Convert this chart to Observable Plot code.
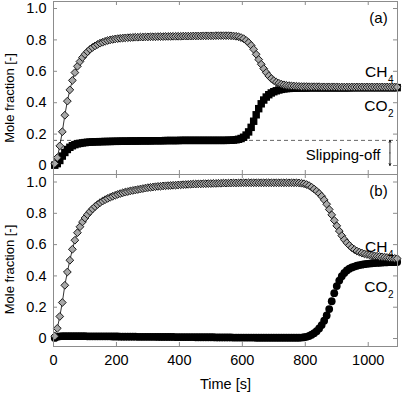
<!DOCTYPE html>
<html><head><meta charset="utf-8">
<script src="https://cdn.jsdelivr.net/npm/d3@7"></script>
<script src="https://cdn.jsdelivr.net/npm/@observablehq/plot@0.6"></script>
<style>
body{margin:0;background:#fff}
#chart{position:relative;width:402px;height:393px;overflow:hidden;background:#fff}
#chart svg{position:absolute;left:0}
</style></head><body><div id="chart"></div>
<script>
// Sampling times [s]
const time = [4,12,20,28,36,44,52,60,68,76,
84,92,100,108,116,124,132,140,148,156,
164,172,180,188,196,204,212,220,228,236,
244,252,260,268,276,284,292,300,308,316,
324,332,340,348,356,364,372,380,388,396,
404,412,420,428,436,444,452,460,468,476,
484,492,500,508,516,524,532,540,548,556,
564,572,580,588,596,604,612,620,628,636,
644,652,660,668,676,684,692,700,708,716,
724,732,740,748,756,764,772,780,788,796,
804,812,820,828,836,844,852,860,868,876,
884,892,900,908,916,924,932,940,948,956,
964,972,980,988,996,1004,1012,1020,1028,1036,
1044,1052,1060,1068,1076,1084,1092];

// Panel (a)
const ch4A = [0.012,0.050,0.125,0.215,0.320,0.410,0.482,0.542,0.592,0.632,
0.662,0.688,0.708,0.725,0.740,0.752,0.762,0.771,0.779,0.785,
0.791,0.796,0.800,0.803,0.806,0.808,0.810,0.812,0.813,0.814,
0.815,0.816,0.817,0.817,0.818,0.818,0.819,0.819,0.820,0.820,
0.820,0.821,0.821,0.821,0.822,0.822,0.822,0.823,0.823,0.823,
0.823,0.824,0.824,0.824,0.824,0.825,0.825,0.825,0.825,0.826,
0.826,0.826,0.826,0.826,0.827,0.827,0.827,0.827,0.827,0.827,
0.826,0.825,0.823,0.820,0.815,0.808,0.797,0.783,0.765,0.740,
0.708,0.675,0.645,0.617,0.592,0.571,0.554,0.541,0.531,0.524,
0.518,0.514,0.511,0.509,0.507,0.506,0.505,0.504,0.503,0.503,
0.503,0.502,0.502,0.502,0.502,0.502,0.501,0.501,0.501,0.501,
0.501,0.501,0.501,0.500,0.500,0.500,0.500,0.500,0.500,0.500,
0.500,0.500,0.500,0.500,0.500,0.500,0.500,0.500,0.500,0.500,
0.500,0.500,0.500,0.500,0.500,0.500,0.500];

const co2A = [0.002,0.012,0.032,0.060,0.083,0.102,0.116,0.126,0.133,0.138,
0.141,0.144,0.146,0.148,0.149,0.150,0.151,0.151,0.152,0.152,
0.153,0.153,0.153,0.154,0.154,0.154,0.155,0.155,0.155,0.155,
0.156,0.156,0.156,0.156,0.157,0.157,0.157,0.157,0.157,0.158,
0.158,0.158,0.158,0.158,0.159,0.159,0.159,0.159,0.159,0.159,
0.160,0.160,0.160,0.160,0.160,0.160,0.160,0.160,0.160,0.160,
0.160,0.160,0.160,0.160,0.160,0.160,0.160,0.160,0.160,0.161,
0.161,0.162,0.164,0.167,0.172,0.180,0.194,0.214,0.243,0.282,
0.323,0.362,0.393,0.417,0.436,0.451,0.462,0.470,0.476,0.481,
0.485,0.488,0.490,0.491,0.492,0.493,0.493,0.494,0.494,0.494,
0.494,0.495,0.495,0.495,0.495,0.495,0.495,0.495,0.495,0.495,
0.495,0.495,0.495,0.495,0.495,0.495,0.495,0.495,0.496,0.496,
0.496,0.496,0.496,0.496,0.496,0.496,0.496,0.496,0.496,0.496,
0.496,0.496,0.496,0.496,0.496,0.496,0.496];

// Panel (b)
const ch4B = [0.015,0.065,0.141,0.230,0.340,0.425,0.500,0.570,0.628,0.676,
0.714,0.745,0.770,0.792,0.811,0.828,0.843,0.856,0.868,0.878,
0.887,0.895,0.902,0.909,0.915,0.921,0.926,0.931,0.935,0.939,
0.943,0.946,0.949,0.952,0.955,0.958,0.961,0.964,0.966,0.968,
0.970,0.972,0.973,0.975,0.976,0.977,0.978,0.979,0.980,0.981,
0.982,0.983,0.984,0.985,0.986,0.987,0.987,0.988,0.988,0.989,
0.989,0.990,0.990,0.991,0.991,0.992,0.992,0.993,0.993,0.993,
0.994,0.994,0.994,0.994,0.995,0.995,0.995,0.995,0.995,0.995,
0.995,0.995,0.995,0.995,0.995,0.995,0.995,0.995,0.995,0.995,
0.995,0.995,0.995,0.995,0.995,0.995,0.995,0.994,0.992,0.989,
0.984,0.977,0.967,0.955,0.942,0.927,0.909,0.886,0.858,0.825,
0.790,0.755,0.720,0.687,0.657,0.632,0.612,0.595,0.580,0.568,
0.559,0.552,0.546,0.541,0.537,0.534,0.531,0.528,0.526,0.524,
0.522,0.520,0.518,0.516,0.514,0.512,0.511];

const co2B = [0.004,0.011,0.014,0.015,0.015,0.015,0.015,0.015,0.015,0.015,
0.015,0.015,0.015,0.014,0.014,0.014,0.014,0.014,0.014,0.014,
0.014,0.014,0.014,0.013,0.013,0.013,0.012,0.012,0.012,0.012,
0.012,0.012,0.012,0.011,0.011,0.011,0.011,0.011,0.011,0.011,
0.011,0.010,0.010,0.010,0.010,0.010,0.010,0.010,0.009,0.009,
0.009,0.009,0.009,0.009,0.009,0.009,0.008,0.008,0.008,0.008,
0.008,0.008,0.008,0.008,0.007,0.007,0.007,0.007,0.007,0.007,
0.007,0.006,0.006,0.006,0.006,0.006,0.006,0.006,0.006,0.006,
0.005,0.005,0.005,0.005,0.005,0.005,0.005,0.005,0.005,0.005,
0.005,0.005,0.005,0.005,0.005,0.005,0.005,0.005,0.006,0.008,
0.011,0.016,0.024,0.034,0.047,0.064,0.086,0.114,0.147,0.188,
0.238,0.290,0.335,0.370,0.398,0.419,0.435,0.446,0.454,0.460,
0.465,0.469,0.472,0.475,0.477,0.479,0.481,0.482,0.483,0.484,
0.485,0.486,0.487,0.488,0.488,0.489,0.489];

const xTicks = [0, 200, 400, 600, 800, 1000];
const yTicks = [0, 0.2, 0.4, 0.6, 0.8, 1.0];
const slipLevel = 0.16;
const xDomain = [0, 1093];

const W = 402, ML = 53, MR = 5;
const frameColor = "#8c8c8c";
const font = "'Liberation Sans', Arial, Helvetica, sans-serif";

function panel(o) {
  const pxY = (o.height - o.marginTop - o.marginBottom) / (o.yDomain[1] - o.yDomain[0]);
  const pxX = (W - ML - MR) / (xDomain[1] - xDomain[0]);
  const tY = 4 / pxY, tX = 4 / pxX;
  const d4 = time.map((t, i) => ({t, v: o.ch4[i]}));
  const d2 = time.map((t, i) => ({t, v: o.co2[i]}));
  const txt = (s, opts) => Plot.text([s], {text: d => d, fontFamily: font, fill: "#000", lineAnchor: "middle", ...opts});
  const marks = [
    Plot.ruleY(yTicks, {x1: xDomain[0], x2: xDomain[0] + tX, stroke: frameColor}),
    Plot.ruleY(yTicks, {x1: xDomain[1] - tX, x2: xDomain[1], stroke: frameColor}),
    Plot.ruleX(xTicks, {y1: o.yDomain[0], y2: o.yDomain[0] + tY, stroke: frameColor}),
    Plot.ruleX(xTicks, {y1: o.yDomain[1] - tY, y2: o.yDomain[1], stroke: frameColor}),
    ...(o.extra || []),
    Plot.dot(d2, {x: "t", y: "v", symbol: o.co2Symbol, r: o.co2R, fill: "#000", stroke: "none"}),
    Plot.line(d4, {x: "t", y: "v", stroke: "#000", strokeWidth: 0.8}),
    Plot.dot(d4, {x: "t", y: "v", symbol: "diamond2", r: 3.5, fill: "#a8a8a8", stroke: "#111", strokeWidth: 0.95}),
    Plot.frame({stroke: frameColor}),
    Plot.axisY(yTicks, {anchor: "left", tickSize: 0, tickPadding: 7, fontSize: 14.5, label: null,
      tickFormat: d => d === 0 ? "0" : d.toFixed(1)}),
    txt(o.tag, {frameAnchor: "top-right", dx: -19, dy: 17, fontSize: 15, textAnchor: "middle"}),
    txt("CH", {frameAnchor: "top-right", dx: -10, dy: o.chDy, fontSize: 15.5, textAnchor: "end"}),
    txt("4", {frameAnchor: "top-right", dx: -9.5, dy: o.chDy + 7, fontSize: 10, textAnchor: "start"}),
    txt("CO", {frameAnchor: "top-right", dx: -10, dy: o.coDy, fontSize: 15.5, textAnchor: "end"}),
    txt("2", {frameAnchor: "top-right", dx: -9.5, dy: o.coDy + 7, fontSize: 10, textAnchor: "start"}),
    txt("Mole fraction [-]", {frameAnchor: "left", rotate: -90, dx: -44, dy: o.labelDy, fontSize: 13, textAnchor: "middle"}),
    ...(o.extraTop || [])
  ];
  if (o.bottomAxis) {
    marks.push(Plot.axisX(xTicks, {anchor: "bottom", tickSize: 0, tickPadding: 8, fontSize: 14.5, label: null,
      tickFormat: d => String(d)}));
    marks.push(txt("Time [s]", {frameAnchor: "bottom", dy: 38, fontSize: 14.5, textAnchor: "middle"}));
  }
  return Plot.plot({
    width: W, height: o.height,
    marginLeft: ML, marginRight: MR, marginTop: o.marginTop, marginBottom: o.marginBottom,
    x: {domain: xDomain, axis: o.bottomAxis ? undefined : null},
    y: {domain: o.yDomain},
    style: {fontFamily: font, fontSize: "14.5px", color: "#000", background: "transparent", overflow: "visible"},
    marks
  });
}

const chart = document.getElementById("chart");

const plotB = panel({
  ch4: ch4B, co2: co2B, co2Symbol: "circle", co2R: 3.9, tag: "(b)",
  yDomain: [-0.051, 1.048], height: 223, marginTop: 4, marginBottom: 47,
  chDy: 69 + 4, coDy: 109 + 4, labelDy: 9, bottomAxis: true
});
plotB.style.top = "170px";
chart.appendChild(plotB);

const plotA = panel({
  ch4: ch4A, co2: co2A, co2Symbol: "square", co2R: 4.2, tag: "(a)",
  yDomain: [-0.0573, 1.0446], height: 175, marginTop: 1, marginBottom: 1,
  chDy: 71, coDy: 105, labelDy: 10, bottomAxis: false,
  extra: [
    Plot.ruleY([slipLevel], {stroke: "#555", strokeWidth: 0.9, strokeDasharray: "4,3"})
  ],
  extraTop: [
    Plot.arrow([{y1: 0.08, y2: slipLevel}, {y1: 0.08, y2: 0}], {x1: 1069, x2: 1069, y1: "y1", y2: "y2", stroke: "#000", strokeWidth: 0.8, headLength: 4, headAngle: 50}),
    Plot.text(["Slipping-off"], {text: d => d, frameAnchor: "top-right", dx: -17, dy: 154, fontSize: 15, textAnchor: "end", lineAnchor: "middle", fontFamily: font})
  ]
});
plotA.style.top = "0px";
chart.appendChild(plotA);
</script>
</body></html>
